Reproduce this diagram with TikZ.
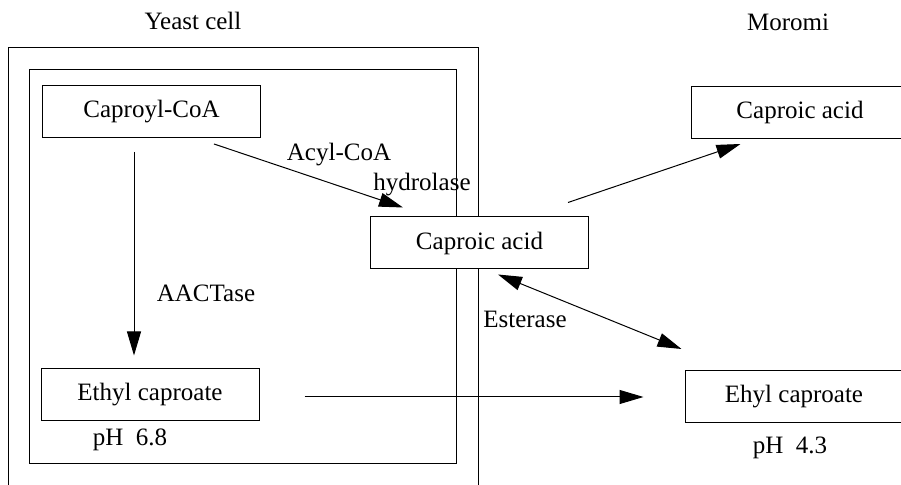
\documentclass[tikz,border=0pt]{standalone}
\usepackage{fontspec}
\setmainfont{Liberation Serif}
\usepackage{tikz}
\usetikzlibrary{arrows.meta, positioning}

\begin{document}
\begin{tikzpicture}[x=0.5pt, y=-0.5pt, line width=0.5pt,
    >={Triangle[length=12pt, width=7pt]},
    every node/.style={font=\fontsize{12.5}{15}\selectfont},
    box/.style={draw, fill=white, rectangle, inner sep=0pt, minimum width=109pt, minimum height=26pt}]
    \useasboundingbox (0,0) rectangle (901,485);
    \clip (0,0) rectangle (901,485);

    % cell wall and membrane
    \draw (8,495) -- (8,48) -- (478,48) -- (478,495);
    \draw (29,70) rectangle (456,464);

    \node (yeast)  at (193,21) {Yeast cell};
    \node (moromi) at (788,22) {Moromi};

    \node[box] (cacoa) at (151.5,111.5) {Caproyl-CoA};
    \node[box] (ecin)  at (150,395)     {Ethyl caproate};
    \node[box] (camid) at (479.5,243)   {Caproic acid};
    \node[box] (caout) at (800,112.5)   {Caproic acid};
    \node[box] (ehout) at (794,396.5)   {Ehyl caproate};

    \node (phin)  at (130,440) {pH\ \ 6.8};
    \node (phout) at (790,448) {pH\ \ 4.3};

    \node (aact)  at (206,293) {AACTase};
    \node (acyl)  at (339,155) {Acyl-CoA};
    \node (hydro) at (422,185) {hydrolase};
    \node (ester) at (525,319) {Esterase};

    \path[->]
    ([shift={(-17.5,14)}]cacoa.south) edge ([shift={(-16,-13)}]ecin.north)
    ([shift={(62.5,6)}]cacoa.south) edge ([shift={(-76.5,-9)}]camid.north)
    ([shift={(45,2)}]ecin.east) edge ([shift={(-41,0.5)}]ehout.west)
    ([shift={(-21,-14)}]camid.north east) edge ([shift={(50,5)}]caout.south west)
    ([shift={(18.5,5)}]camid.south) edge[<->] ([shift={(-3,-21)}]ehout.north west);
\end{tikzpicture}
\end{document}
